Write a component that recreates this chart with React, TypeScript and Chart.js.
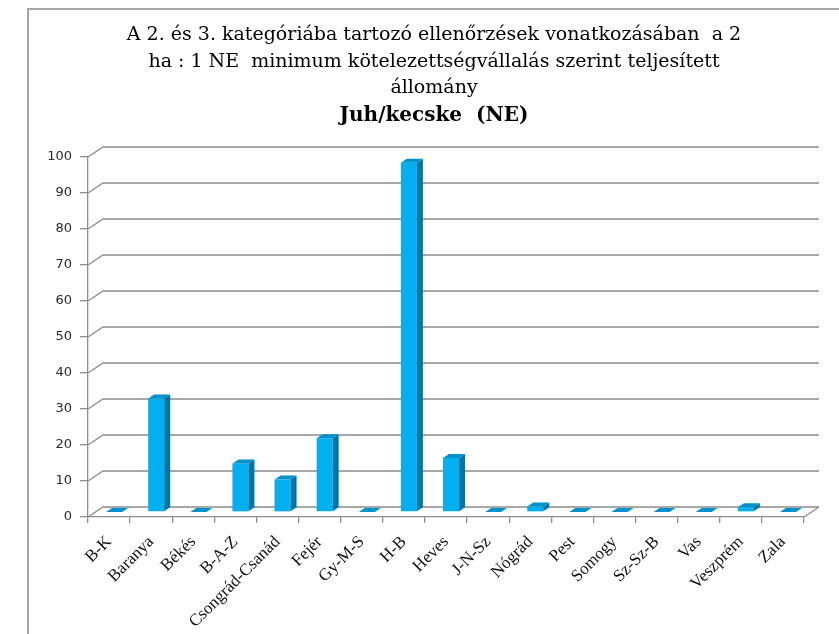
import React, { useEffect, useRef } from 'react';
import { Chart, registerables } from 'chart.js';

Chart.register(...registerables);

const categories = [
  'B-K', 'Baranya', 'Békés', 'B-A-Z', 'Csongrád-Csanád', 'Fejér', 'Gy-M-S', 'H-B', 'Heves',
  'J-N-Sz', 'Nógrád', 'Pest', 'Somogy', 'Sz-Sz-B', 'Vas', 'Veszprém', 'Zala',
];
const values = [0, 31.5, 0, 13.5, 9, 20.5, 0, 97, 15, 0, 1.5, 0, 0, 0, 0, 1.3, 0];
const yTickValues = [0, 10, 20, 30, 40, 50, 60, 70, 80, 90, 100];

const titleLines = [
  'A 2. és 3. kategóriába tartozó ellenőrzések vonatkozásában  a 2',
  'ha : 1 NE  minimum kötelezettségvállalás szerint teljesített',
  'állomány',
];
const subtitleText = 'Juh/kecske  (NE)';

const WALL_DX = 15;
const WALL_DY = -10;
const BAR_SHIFT_X = 5;
const BAR_SHIFT_Y = -5;
const BAR_DX = 6;
const BAR_DY = -4;
const GRID_COLOR = '#8c8c8c';

const threeD = {
  id: 'threeD',
  beforeDraw(chart: any) {
    const ctx = chart.ctx;
    ctx.save();
    ctx.strokeStyle = '#a6a6a6';
    ctx.lineWidth = 2;
    ctx.beginPath();
    ctx.moveTo(28, 700);
    ctx.lineTo(28, 9);
    ctx.lineTo(900, 9);
    ctx.stroke();
    ctx.restore();
  },
  beforeDatasetsDraw(chart: any) {
    const { ctx, chartArea } = chart;
    const y = chart.scales.y;
    ctx.save();
    ctx.strokeStyle = GRID_COLOR;
    ctx.lineWidth = 1.3;
    for (const t of y.ticks) {
      const py = y.getPixelForValue(t.value);
      ctx.beginPath();
      ctx.moveTo(chartArea.left, py);
      ctx.lineTo(chartArea.left + WALL_DX, py + WALL_DY);
      ctx.lineTo(chartArea.right + WALL_DX, py + WALL_DY);
      ctx.stroke();
    }
    const y0 = y.getPixelForValue(0);
    ctx.beginPath();
    ctx.moveTo(chartArea.right, y0);
    ctx.lineTo(chartArea.right + WALL_DX, y0 + WALL_DY);
    ctx.stroke();
    ctx.restore();
    ctx.save();
    ctx.translate(BAR_SHIFT_X, BAR_SHIFT_Y);
  },
  afterDatasetsDraw(chart: any) {
    const ctx = chart.ctx;
    const meta = chart.getDatasetMeta(0);
    meta.data.forEach((el: any) => {
      const { x, y, base, width } = el.getProps(['x', 'y', 'base', 'width'], true);
      const l = x - width / 2;
      const r = x + width / 2;
      const top = Math.min(y, base);
      const bottom = Math.max(y, base);
      if (bottom - top > 0.5) {
        ctx.fillStyle = '#0074a6';
        ctx.beginPath();
        ctx.moveTo(r, top);
        ctx.lineTo(r + BAR_DX, top + BAR_DY);
        ctx.lineTo(r + BAR_DX, bottom + BAR_DY);
        ctx.lineTo(r, bottom);
        ctx.closePath();
        ctx.fill();
      }
      ctx.fillStyle = '#0092cc';
      ctx.beginPath();
      ctx.moveTo(l, top);
      ctx.lineTo(l + BAR_DX, top + BAR_DY);
      ctx.lineTo(r + BAR_DX, top + BAR_DY);
      ctx.lineTo(r, top);
      ctx.closePath();
      ctx.fill();
    });
    ctx.restore();
  },
};

export default function App() {
  const canvasRef = useRef<HTMLCanvasElement | null>(null);

  useEffect(() => {
    if (!canvasRef.current) return;
    const chart = new Chart(canvasRef.current, {
      type: 'bar',
      data: {
        labels: categories,
        datasets: [
          {
            data: values,
            backgroundColor: '#00b0f0',
            borderWidth: 0,
            barPercentage: 0.38,
            categoryPercentage: 1,
          },
        ],
      },
      plugins: [threeD],
      options: {
        responsive: true,
        maintainAspectRatio: false,
        animation: false,
        layout: { padding: { left: 40, right: 11, top: 10, bottom: 0 } },
        plugins: {
          legend: { display: false },
          tooltip: { enabled: false },
          title: {
            display: true,
            text: titleLines,
            color: '#000',
            font: { family: "'DejaVu Serif', serif", size: 19, weight: 'normal', lineHeight: 1.395 },
            padding: { top: 12, bottom: 0 },
          },
          subtitle: {
            display: true,
            text: subtitleText,
            color: '#000',
            font: { family: "'DejaVu Serif', serif", size: 20, weight: 'bold', lineHeight: 1.2 },
            padding: { top: 2.5, bottom: 29 },
          },
        },
        scales: {
          x: {
            grid: {
              display: true,
              drawOnChartArea: false,
              drawTicks: true,
              tickLength: 6,
              color: GRID_COLOR,
              lineWidth: 1.3,
              offset: true,
            },
            border: { display: true, color: GRID_COLOR, width: 1.3 },
            ticks: {
              autoSkip: false,
              maxRotation: 45,
              minRotation: 45,
              color: '#111',
              padding: 9,
              font: { family: "'Liberation Serif', serif", size: 17 },
            },
            afterFit: (scale: any) => {
              scale.height = 117;
            },
          },
          y: {
            min: 0,
            max: 100,
            afterBuildTicks: (scale: any) => {
              scale.ticks = yTickValues.map((v) => ({ value: v }));
            },
            grid: {
              display: true,
              drawOnChartArea: false,
              drawTicks: true,
              tickLength: 8,
              color: GRID_COLOR,
              lineWidth: 1.3,
            },
            border: { display: true, color: GRID_COLOR, width: 1.3 },
            ticks: {
              color: '#2a2a2a',
              padding: 8,
              font: { family: "'DejaVu Sans', sans-serif", size: 13 },
            },
            afterFit: (scale: any) => {
              scale.width = 48;
            },
          },
          y2: {
            position: 'right',
            display: true,
            grid: { display: false, drawTicks: false },
            border: { display: false },
            ticks: { display: false },
            afterFit: (scale: any) => {
              scale.width = 24;
            },
          },
        },
      },
    } as any);
    return () => chart.destroy();
  }, []);

  return (
    <div style={{ position: 'absolute', left: 0, top: 0, width: 839, height: 634, background: '#fff' }}>
      <canvas ref={canvasRef} />
    </div>
  );
}
